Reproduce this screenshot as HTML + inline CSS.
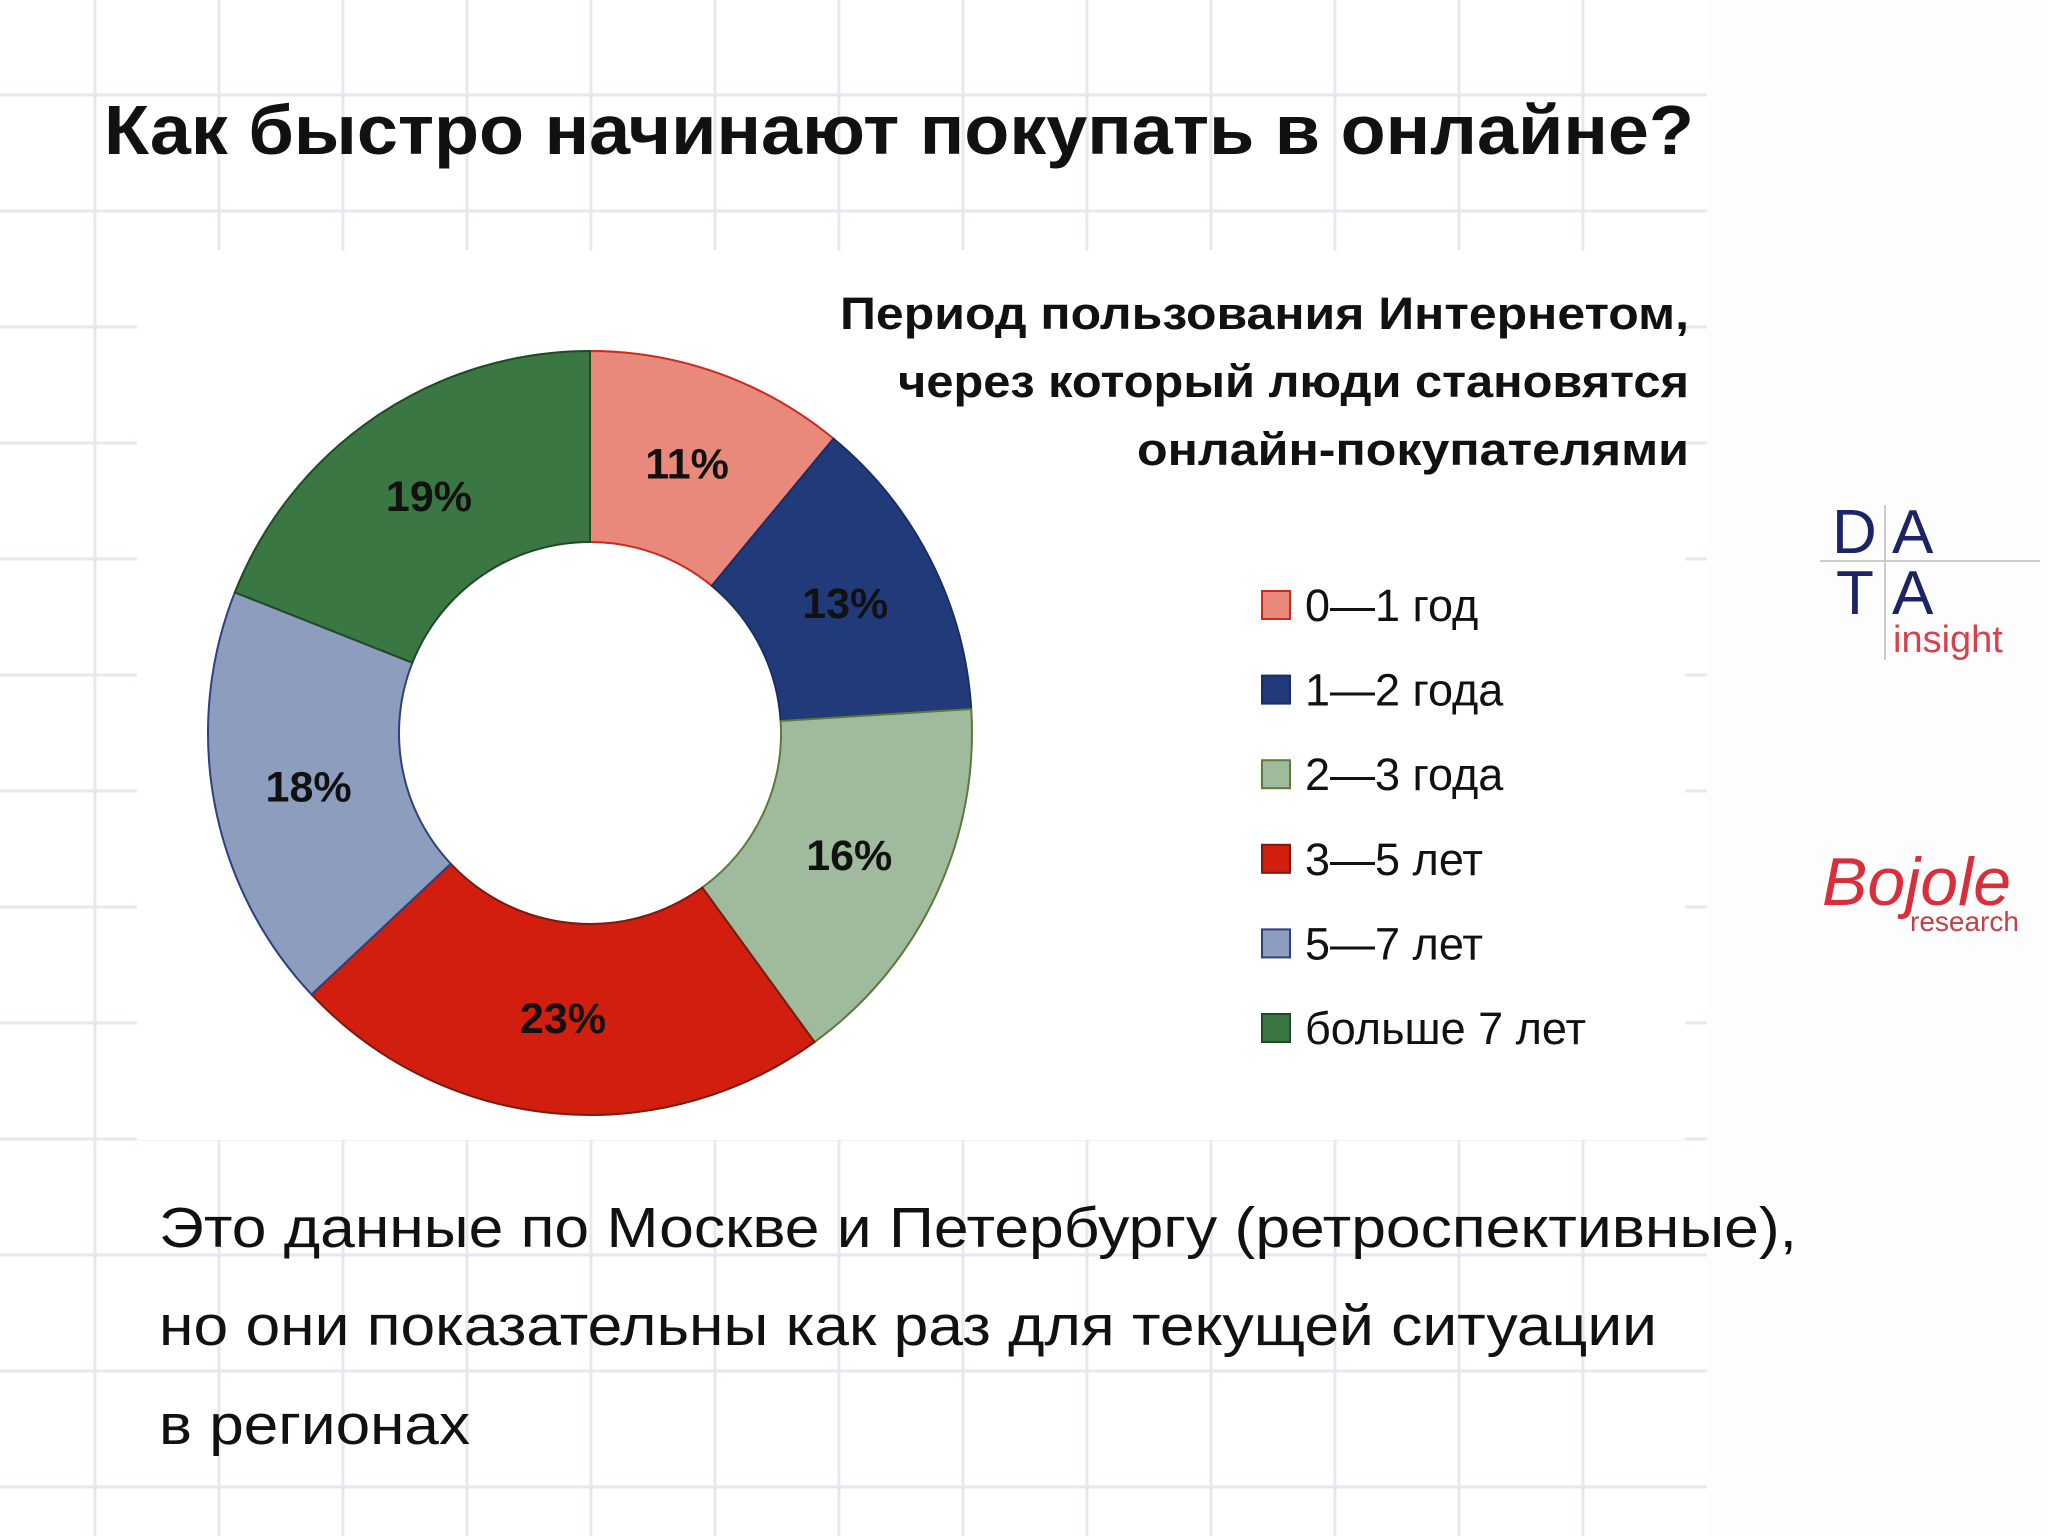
<!DOCTYPE html>
<html><head><meta charset="utf-8"><style>
html,body{margin:0;padding:0;background:#fff;}
svg{display:block;}
text{font-family:"Liberation Sans","DejaVu Sans",sans-serif;}
</style></head><body>
<svg id="chart" width="2048" height="1536" viewBox="0 0 2048 1536" xmlns="http://www.w3.org/2000/svg">
<rect width="2048" height="1536" fill="#ffffff"/>
<g id="grid" stroke="#e4e8f0" stroke-width="3"></g>
<rect x="137" y="250" width="1548" height="890" fill="#ffffff"/>
<rect x="1707" y="0" width="341" height="1536" fill="#fdfdfe"/>
<text x="104" y="154" font-size="70" font-weight="bold" fill="#111" textLength="1590" lengthAdjust="spacingAndGlyphs">Как быстро начинают покупать в онлайне?</text>
<g font-size="45" font-weight="bold" fill="#111" text-anchor="end">
<text x="1689" y="329" textLength="849" lengthAdjust="spacingAndGlyphs">Период пользования Интернетом,</text>
<text x="1689" y="397" textLength="791" lengthAdjust="spacingAndGlyphs">через который люди становятся</text>
<text x="1689" y="465" textLength="552" lengthAdjust="spacingAndGlyphs">онлайн-покупателями</text>
</g>
<g id="donut"></g>
<g id="legend"></g>
<g font-size="57" fill="#111">
<text x="159" y="1247" textLength="1638" lengthAdjust="spacingAndGlyphs">Это данные по Москве и Петербургу (ретроспективные),</text>
<text x="159" y="1345" textLength="1498" lengthAdjust="spacingAndGlyphs">но они показательны как раз для текущей ситуации</text>
<text x="159" y="1444" textLength="311" lengthAdjust="spacingAndGlyphs">в регионах</text>
</g>
<g>
<line x1="1885" y1="505" x2="1885" y2="660" stroke="#ccc" stroke-width="2"/>
<line x1="1820" y1="561" x2="2040" y2="561" stroke="#ccc" stroke-width="2"/>
<text x="1832" y="553" font-size="62" fill="#1c2466">D</text>
<text x="1892" y="553" font-size="62" fill="#1c2466">A</text>
<text x="1836" y="614" font-size="62" fill="#1c2466">T</text>
<text x="1892" y="614" font-size="62" fill="#1c2466">A</text>
<text x="1893" y="652" font-size="38" fill="#d8404a">insight</text>
</g>
<g>
<text x="1822" y="905" font-size="68" font-style="italic" font-family="Liberation Serif, serif" fill="#d92e3c">Bojole</text>
<text x="1910" y="931" font-size="28" fill="#c2404a">research</text>
</g>
</svg>
<script>
const categories = ["0—1 год","1—2 года","2—3 года","3—5 лет","5—7 лет","больше 7 лет"];
const values = [11,13,16,23,18,19];
const labels = ["11%","13%","16%","23%","18%","19%"];
const colors = ["#E8897B","#213A7A","#9FBA9C","#D11E0E","#8D9DBE","#3A7743"];
const strokes = ["#cc2a1e","#1a2e66","#5e7a3a","#7a1a10","#2f3f80","#1e4a26"];
const NS="http://www.w3.org/2000/svg";
const cx=590, cy=733, R=382, r=191;
const total=values.reduce((a,b)=>a+b,0);
function pt(rad,frac){const a=frac*2*Math.PI;return [cx+rad*Math.sin(a), cy-rad*Math.cos(a)];}
const donut=document.getElementById('donut');
let acc=0;
values.forEach((v,i)=>{
  const f0=acc/total, f1=(acc+v)/total; acc+=v;
  const large=(f1-f0)>0.5?1:0;
  const [x1,y1]=pt(R,f0),[x2,y2]=pt(R,f1),[x3,y3]=pt(r,f1),[x4,y4]=pt(r,f0);
  const p=document.createElementNS(NS,'path');
  p.setAttribute('d',`M${x1},${y1} A${R},${R} 0 ${large} 1 ${x2},${y2} L${x3},${y3} A${r},${r} 0 ${large} 0 ${x4},${y4} Z`);
  p.setAttribute('fill',colors[i]);p.setAttribute('stroke',strokes[i]);p.setAttribute('stroke-width','2');
  
  
  donut.appendChild(p);
  const [lx,ly]=pt((R+r)/2,(f0+f1)/2);
  const t=document.createElementNS(NS,'text');
  t.setAttribute('x',lx);t.setAttribute('y',ly+15);t.setAttribute('text-anchor','middle');
  t.setAttribute('font-size','43');t.setAttribute('font-weight','bold');t.setAttribute('fill','#111');
  t.textContent=labels[i];
  
  
  donut.appendChild(t);
});
const legend=document.getElementById('legend');
categories.forEach((c,i)=>{
  const y=605+i*84.6;
  const s=document.createElementNS(NS,'rect');
  s.setAttribute('x',1262);s.setAttribute('y',y-14);s.setAttribute('width',28);s.setAttribute('height',28);
  s.setAttribute('fill',colors[i]);s.setAttribute('stroke',strokes[i]);s.setAttribute('stroke-width','2');
  
  
  legend.appendChild(s);
  const t=document.createElementNS(NS,'text');
  t.setAttribute('x',1305);t.setAttribute('y',y+16);t.setAttribute('font-size','45');t.setAttribute('fill','#111');
  t.textContent=c;
  
  
  legend.appendChild(t);
});
const grid=document.getElementById('grid');
for(let x=95;x<1707;x+=124){const l=document.createElementNS(NS,'line');l.setAttribute('x1',x);l.setAttribute('x2',x);l.setAttribute('y1',0);l.setAttribute('y2',1536);grid.appendChild(l);}
for(let y=95;y<1536;y+=116){const l=document.createElementNS(NS,'line');l.setAttribute('x1',0);l.setAttribute('x2',1707);l.setAttribute('y1',y);l.setAttribute('y2',y);grid.appendChild(l);}
</script>
</body></html>
